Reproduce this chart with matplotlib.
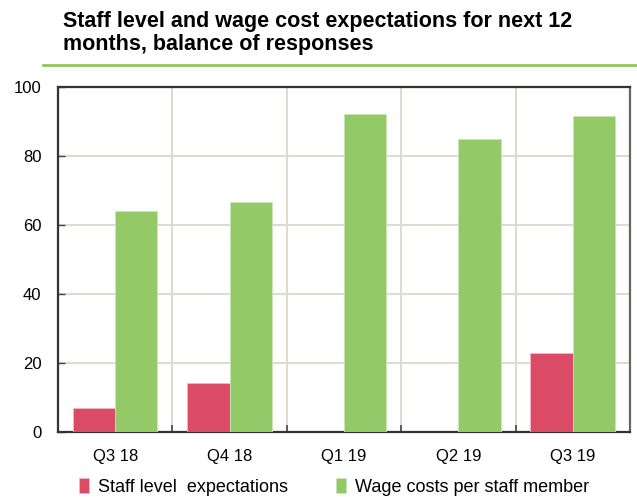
import matplotlib
matplotlib.use("Agg")
import matplotlib.pyplot as plt
import numpy as np

plt.rcParams['font.family'] = ['Liberation Sans', 'DejaVu Sans']

# 季度及两组差额数据
quarters = ['Q3 18', 'Q4 18', 'Q1 19', 'Q2 19', 'Q3 19']
staff_level = [7.0, 14.3, 0.0, 0.0, 22.8]
wage_costs = [64.1, 66.7, 92.2, 84.8, 91.7]

red = '#db4b66'
green = '#93c967'
grid_col = '#dcdccf'

fig = plt.figure(figsize=(6.37, 4.97), dpi=100)
ax = fig.add_axes([0.091, 0.131, 0.898, 0.694])

x = np.arange(len(quarters))
w = 0.37
b1 = ax.bar(x - w / 2, staff_level, w, color=red, edgecolor='#f2b8c2', linewidth=0.6,
            label='Staff level  expectations', zorder=3)
b2 = ax.bar(x + w / 2, wage_costs, w, color=green, edgecolor='#c9e6b3', linewidth=0.6,
            label='Wage costs per staff member', zorder=3)

ax.set_xlim(-0.5, len(quarters) - 0.5)
ax.set_ylim(0, 100)
ax.set_yticks(range(0, 101, 20))
ax.set_xticks(x)
ax.set_xticklabels(quarters)
ax.set_xticks(np.arange(-0.5, len(quarters), 1.0), minor=True)

# 网格线：水平与类别分隔线
ax.grid(True, axis='y', color=grid_col, linewidth=1.5, zorder=0)
ax.grid(True, axis='x', which='minor', color=grid_col, linewidth=1.5, zorder=0)
ax.tick_params(axis='x', which='major', length=0, pad=12, labelsize=12)
ax.tick_params(axis='x', which='minor', direction='in', length=5, width=1.2, color='#444444')
ax.tick_params(axis='y', direction='in', length=5, width=1.0, color='#444444', pad=12,
               labelsize=12)

for side in ['left', 'bottom', 'top']:
    ax.spines[side].set_color('#333333')
    ax.spines[side].set_linewidth(1.6)
ax.spines['right'].set_color('#666666')
ax.spines['right'].set_linewidth(1.6)

# 标题和下方绿色分隔线
fig.text(0.099, 0.978, 'Staff level and wage cost expectations for next 12\nmonths, balance of responses',
         ha='left', va='top', fontsize=15.5, fontweight='bold', linespacing=1.1)
fig.add_artist(plt.Line2D([0.068, 1.0], [0.869, 0.869], color='#8cc85e', linewidth=2))

fig.legend(handles=[b1, b2], loc='lower left', bbox_to_anchor=(0.098, -0.03), ncol=2,
           frameon=False, fontsize=13, handlelength=0.55, handleheight=0.9,
           handletextpad=0.5, columnspacing=2.7)

fig.savefig('out.png', dpi=100)
